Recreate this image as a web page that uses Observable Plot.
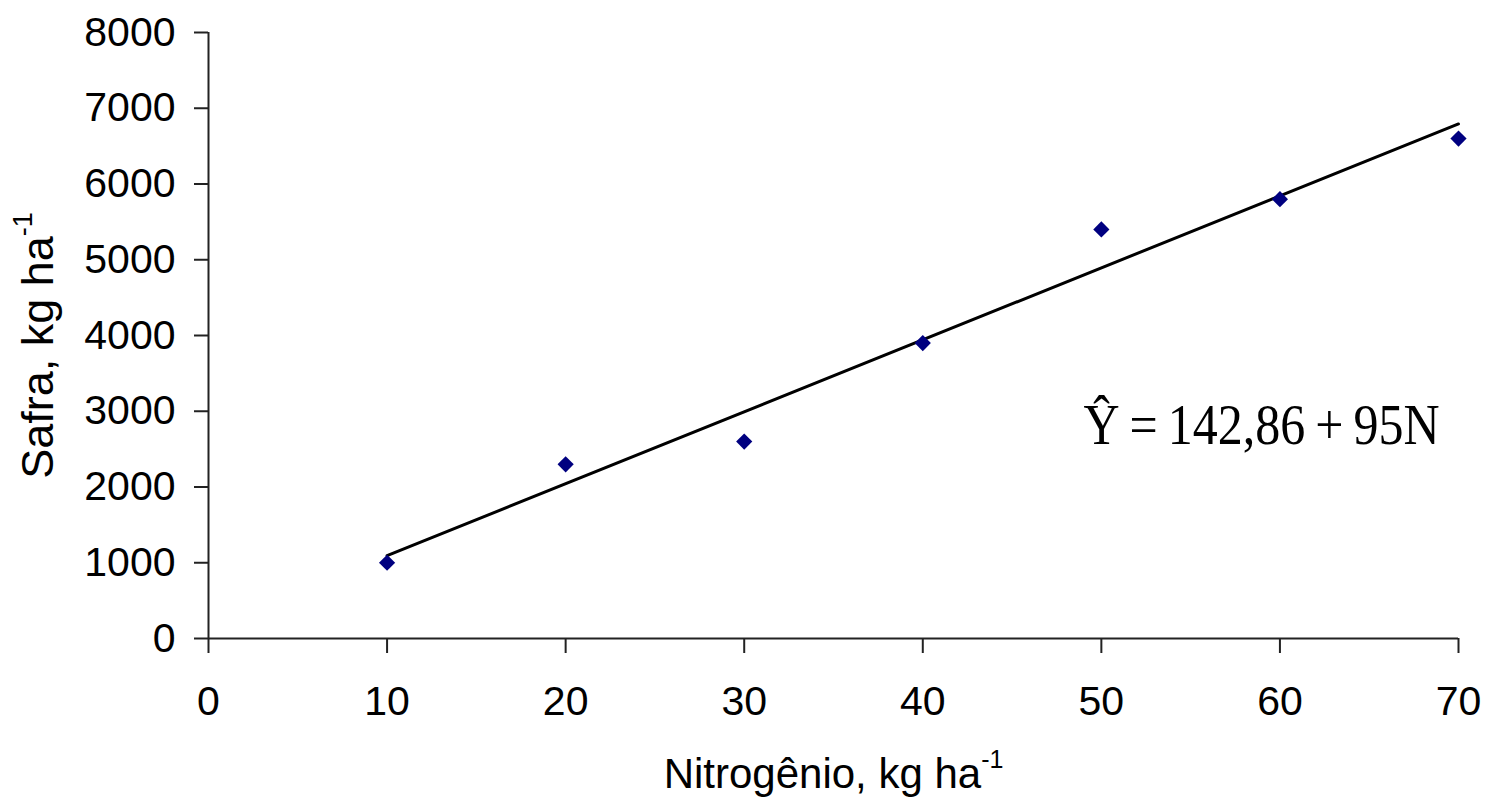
<!DOCTYPE html>
<html>
<head>
<meta charset="utf-8">
<script src="https://cdn.jsdelivr.net/npm/d3@7"></script>
<script src="https://cdn.jsdelivr.net/npm/@observablehq/plot@0.6"></script>
<style>
  html, body { margin: 0; padding: 0; background: #fff; }
  svg { display: block; }
</style>
</head>
<body>
<div id="chart"></div>
<script>
// Nitrogen rate (kg/ha) and observed yield (kg/ha)
const nitrogen = [10, 20, 30, 40, 50, 60, 70];
const yieldKg = [1000, 2300, 2600, 3900, 5400, 5800, 6600];

// Axis ticks
const xTicks = [0, 10, 20, 30, 40, 50, 60, 70];
const yTicks = [0, 1000, 2000, 3000, 4000, 5000, 6000, 7000, 8000];

// Fitted regression: Y = a + b N
const intercept = 142.86;
const slope = 95;

// Axis titles (unit exponent added as a superscript)
const xTitle = "Nitrogênio, kg ha";
const yTitle = "Safra, kg ha";
const unitExponent = "-1";

const points = nitrogen.map((n, i) => ({n, y: yieldKg[i]}));
const fitLine = d3.extent(nitrogen).map(n => ({n, y: intercept + slope * n}));
const decimalComma = v => String(v).replace(".", ",");
const thin = "\u2009";
const equation = `Ŷ${thin}=${thin}${decimalComma(intercept)}${thin}+${thin}${slope}N`;

const axisColor = "#222";

const chart = Plot.plot({
  width: 1490,
  height: 811,
  marginTop: 32,
  marginRight: 32,
  marginBottom: 173,
  marginLeft: 208,
  style: {
    fontFamily: "'Liberation Sans', Arial, sans-serif",
    fontSize: "41px",
    color: "#000",
    background: "#fff"
  },
  x: {domain: [0, 70]},
  y: {domain: [0, 8000]},
  marks: [
    Plot.ruleX([0], {stroke: axisColor, strokeWidth: 2}),
    Plot.ruleY([0], {stroke: axisColor, strokeWidth: 2}),
    Plot.axisX({
      ticks: xTicks, tickSize: 15, tickPadding: 32, tickFormat: d3.format("d"),
      label: null, stroke: axisColor, strokeWidth: 2, strokeOpacity: 1
    }),
    Plot.axisY({
      ticks: yTicks, tickSize: 14, tickPadding: 19, tickFormat: d3.format("d"),
      label: null, stroke: axisColor, strokeWidth: 2, strokeOpacity: 1
    }),
    Plot.line(fitLine, {x: "n", y: "y", stroke: "#000", strokeWidth: 3}),
    Plot.dot(points, {x: "n", y: "y", symbol: "diamond2", r: 7.3, fill: "#000080", stroke: "none"}),
    Plot.text([equation], {
      x: () => 49, y: () => 2800, text: d => d,
      textAnchor: "start", fontFamily: "'Liberation Serif', 'Times New Roman', serif",
      fontSize: 56, fill: "#000"
    }),
    Plot.text([xTitle], {
      frameAnchor: "bottom", dy: 149, text: d => d, fontSize: 42, fill: "#000"
    }),
    Plot.text([yTitle], {
      frameAnchor: "left", textAnchor: "middle", dx: -170, dy: 10, rotate: -90,
      text: d => d, fontSize: 45, fill: "#000"
    })
  ]
});

const findText = content =>
  Array.from(chart.querySelectorAll("text")).find(t => t.textContent === content) || null;

// Add the "-1" exponent to the unit in each axis title
for (const [title, size, shift] of [[xTitle, 25, -20], [yTitle, 27, -21]]) {
  const text = findText(title);
  if (!text) continue;
  const sup = document.createElementNS("http://www.w3.org/2000/svg", "tspan");
  sup.setAttribute("font-size", size);
  sup.setAttribute("dy", shift);
  sup.textContent = unitExponent;
  text.appendChild(sup);
}

// The equation is set in a slightly condensed serif
const eq = findText(equation);
if (eq) {
  eq.setAttribute("textLength", 356);
  eq.setAttribute("lengthAdjust", "spacingAndGlyphs");
}

document.getElementById("chart").appendChild(chart);
</script>
</body>
</html>
